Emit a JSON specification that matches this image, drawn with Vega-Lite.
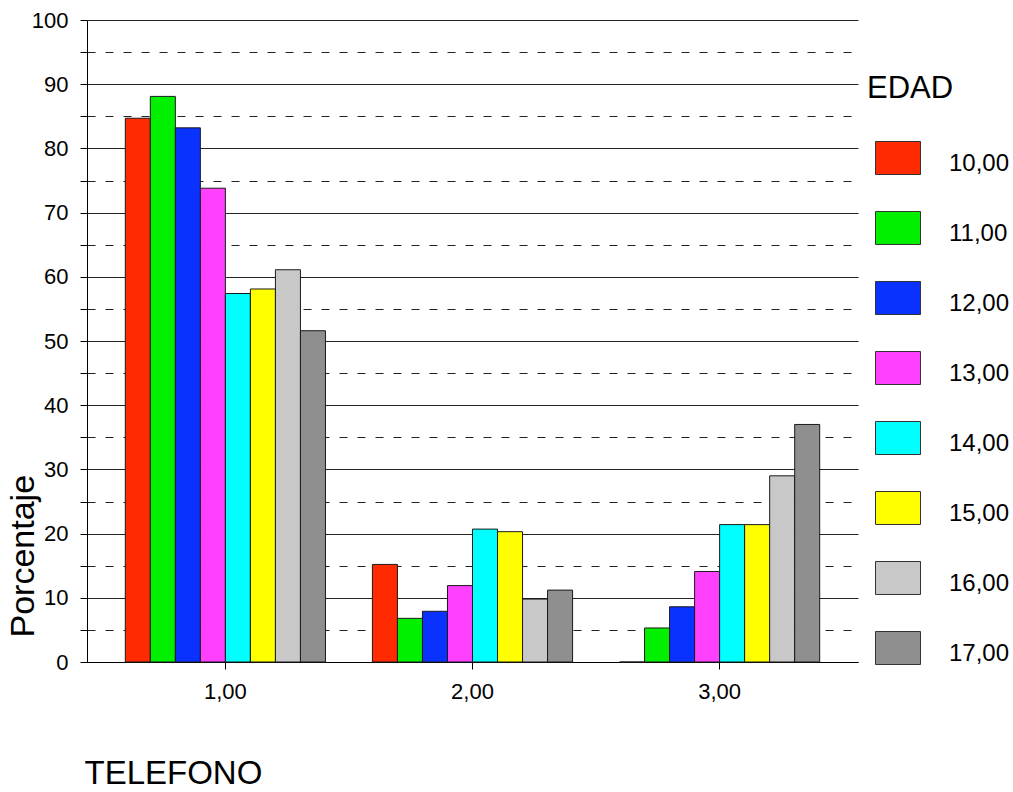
{
  "$schema": "https://vega.github.io/schema/vega-lite/v6.json",
  "autosize": "none",
  "padding": {"left": 87, "top": 20, "right": 155, "bottom": 130},
  "width": 771,
  "height": 642,
  "background": "white",
  "config": {
    "view": {"stroke": null},
    "font": "Liberation Sans"
  },
  "data": {
    "values": [
      {"telefono": "1,00", "edad": "10,00", "pct": 84.7},
      {"telefono": "1,00", "edad": "11,00", "pct": 88.1},
      {"telefono": "1,00", "edad": "12,00", "pct": 83.2},
      {"telefono": "1,00", "edad": "13,00", "pct": 73.8},
      {"telefono": "1,00", "edad": "14,00", "pct": 57.4},
      {"telefono": "1,00", "edad": "15,00", "pct": 58.1},
      {"telefono": "1,00", "edad": "16,00", "pct": 61.1},
      {"telefono": "1,00", "edad": "17,00", "pct": 51.6},
      {"telefono": "2,00", "edad": "10,00", "pct": 15.2},
      {"telefono": "2,00", "edad": "11,00", "pct": 6.8},
      {"telefono": "2,00", "edad": "12,00", "pct": 7.9},
      {"telefono": "2,00", "edad": "13,00", "pct": 11.9},
      {"telefono": "2,00", "edad": "14,00", "pct": 20.7},
      {"telefono": "2,00", "edad": "15,00", "pct": 20.3},
      {"telefono": "2,00", "edad": "16,00", "pct": 9.8},
      {"telefono": "2,00", "edad": "17,00", "pct": 11.2},
      {"telefono": "3,00", "edad": "10,00", "pct": 0},
      {"telefono": "3,00", "edad": "11,00", "pct": 5.3},
      {"telefono": "3,00", "edad": "12,00", "pct": 8.6},
      {"telefono": "3,00", "edad": "13,00", "pct": 14.1},
      {"telefono": "3,00", "edad": "14,00", "pct": 21.4},
      {"telefono": "3,00", "edad": "15,00", "pct": 21.4},
      {"telefono": "3,00", "edad": "16,00", "pct": 29.0},
      {"telefono": "3,00", "edad": "17,00", "pct": 37.0}
    ]
  },
  "mark": {"type": "bar", "stroke": "#1a1a1a", "strokeWidth": 1, "opacity": 1},
  "encoding": {
    "x": {
      "field": "telefono",
      "type": "nominal",
      "sort": ["1,00", "2,00", "3,00"],
      "scale": {"paddingInner": 0.19, "paddingOuter": 0.155},
      "axis": {
        "title": "TELEFONO",
        "titleFontSize": 33,
        "titleFontWeight": "normal",
        "titleColor": "#000",
        "titleAnchor": "start",
        "titleAlign": "left",
        "titleBaseline": "alphabetic",
        "titleX": -3,
        "titleY": 121,
        "labelAngle": 0,
        "labelFontSize": 22,
        "labelColor": "#000",
        "labelPadding": 12,
        "tickSize": 7,
        "tickColor": "#000",
        "domainColor": "#000",
        "grid": false
      }
    },
    "xOffset": {
      "field": "edad",
      "type": "nominal",
      "sort": ["10,00", "11,00", "12,00", "13,00", "14,00", "15,00", "16,00", "17,00"],
      "scale": {"paddingInner": 0, "paddingOuter": 0}
    },
    "y": {
      "field": "pct",
      "type": "quantitative",
      "scale": {"domain": [0, 100], "nice": false},
      "axis": {
        "title": "Porcentaje",
        "titleFontSize": 34,
        "titleFontWeight": "normal",
        "titleColor": "#000",
        "titleAnchor": "start",
        "titleAlign": "left",
        "titleAngle": -90,
        "titleBaseline": "alphabetic",
        "titleX": -54,
        "titleY": 617,
        "values": [0, 5, 10, 15, 20, 25, 30, 35, 40, 45, 50, 55, 60, 65, 70, 75, 80, 85, 90, 95, 100],
        "labelExpr": "datum.value % 10 === 0 ? datum.label : ''",
        "labelOverlap": false,
        "labelFlush": false,
        "labelFontSize": 22,
        "labelColor": "#000",
        "labelPadding": 12,
        "tickSize": 7,
        "tickColor": "#000",
        "domainColor": "#000",
        "grid": true,
        "gridColor": "#222",
        "gridOpacity": 1,
        "gridWidth": 1,
        "gridDash": {"condition": {"test": "datum.value % 10 === 0", "value": []}, "value": [8, 10]}
      }
    },
    "color": {
      "field": "edad",
      "type": "nominal",
      "scale": {
        "domain": ["10,00", "11,00", "12,00", "13,00", "14,00", "15,00", "16,00", "17,00"],
        "range": ["#FF2A00", "#00F000", "#0A32FF", "#FF40FF", "#00FFFF", "#FFFF00", "#C8C8C8", "#8F8F8F"]
      },
      "legend": {
        "title": "EDAD",
        "orient": "none",
        "legendX": 780,
        "legendY": 54,
        "titleFontSize": 31,
        "titleFontWeight": "normal",
        "titleColor": "#000",
        "titlePadding": 36,
        "labelFontSize": 24,
        "labelColor": "#000",
        "labelOffset": 36,
        "symbolType": "M-0.644,-1.0L1.356,-1.0L1.356,0.466L-0.644,0.466Z",
        "symbolSize": 2025,
        "symbolStrokeColor": "#333",
        "symbolStrokeWidth": 1,
        "symbolOpacity": 1,
        "rowPadding": 32,
        "labelLimit": 200
      }
    }
  }
}
